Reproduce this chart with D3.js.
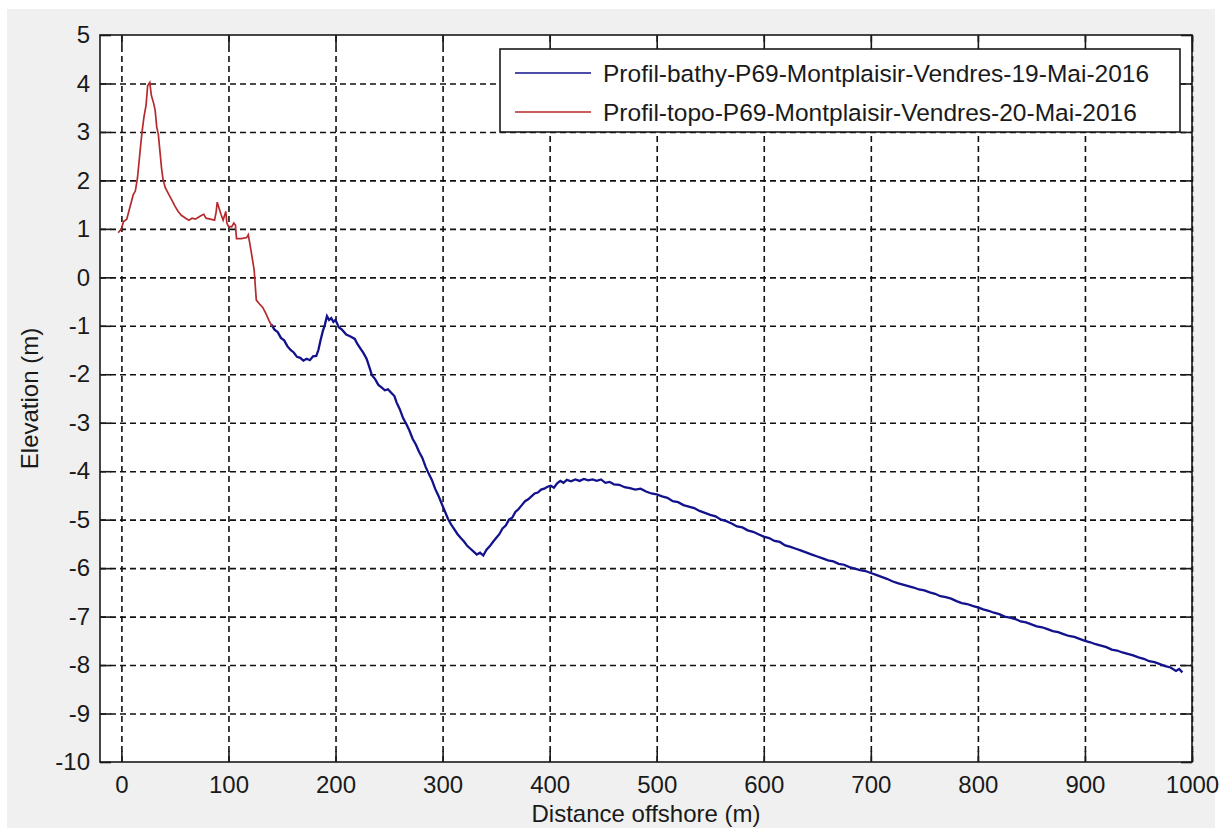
<!DOCTYPE html>
<html lang="en">
<head>
<meta charset="utf-8">
<script src="https://d3js.org/d3.v7.min.js"></script>
<style type="text/css">
body {
	margin: 0;
	background: #ffffff;
	font-family: "Liberation Sans", Arial, sans-serif;
}
.grid line {
	stroke: #111;
	stroke-width: 1.6;
	stroke-dasharray: 6,4;
}
.grid path {
	display: none;
}
.axis path {
	display: none;
}
.axis line {
	stroke: #1a1a1a;
	stroke-width: 1.6;
}
.axis text {
	font-family: "Liberation Sans", Arial, sans-serif;
	font-size: 24px;
	fill: #1a1a1a;
}
</style>
</head>
<body>
<script type="text/javascript">

// tick values
var xTicks = [0, 100, 200, 300, 400, 500, 600, 700, 800, 900, 1000];
var yTicks = [-10, -9, -8, -7, -6, -5, -4, -3, -2, -1, 0, 1, 2, 3, 4, 5];

// series names
var seriesNames = ["Profil-bathy-P69-Montplaisir-Vendres-19-Mai-2016",
                   "Profil-topo-P69-Montplaisir-Vendres-20-Mai-2016"];

// topo profile (red)
var topoDist = [-3, 0, 2, 5, 8, 11, 13, 15, 17, 19, 21, 23, 24.5, 26.5, 28, 30, 31.5, 33, 34.5, 36,
	37.5, 39, 41, 44, 47, 50, 53, 56, 60, 63, 66, 69, 72, 75, 77, 79, 83, 87, 88.5, 89.5,
	91, 93, 95, 97.5, 98.5, 100, 103, 105, 106.5, 107.5, 112, 117, 118.5, 121, 124, 126, 129, 132, 135, 138, 141];
var topoElev = [0.92, 1.0, 1.15, 1.2, 1.45, 1.7, 1.78, 2.05, 2.5, 2.95, 3.3, 3.55, 3.95, 4.02, 3.75, 3.6, 3.45, 3.1, 2.95, 2.6,
	2.25, 2.0, 1.85, 1.72, 1.6, 1.47, 1.36, 1.28, 1.22, 1.18, 1.22, 1.2, 1.24, 1.28, 1.3, 1.22, 1.2, 1.18, 1.35, 1.55,
	1.44, 1.3, 1.18, 1.36, 1.12, 1.05, 1.04, 1.12, 1.08, 0.8, 0.8, 0.82, 0.88, 0.56, 0.15, -0.47, -0.55, -0.62, -0.75, -0.9, -1.02];

// bathy profile (blue)
var bathyDist = [140, 143, 146, 149, 152, 155, 158, 161, 164, 167, 170, 173, 176, 179, 182, 184, 186, 188, 190, 192,
	194, 196, 198, 200, 203, 206, 210, 214, 218, 220, 223, 226, 229, 232, 234, 237, 240, 243, 246, 249,
	252, 255, 257, 260, 263, 266, 269, 272, 275, 278, 281, 284, 287, 290, 293, 296, 299, 302, 305, 308,
	311, 314, 317, 320, 323, 326, 329, 332, 335, 338, 341, 344, 347, 350, 353, 356, 359, 362, 365, 368,
	371, 374, 377, 380, 383, 386, 389, 392, 395, 398, 401, 404, 407, 410, 413, 416, 420, 424, 428, 432,
	436, 440, 444, 448, 452, 456, 460, 465, 470, 475, 480, 485, 490, 495, 500, 505, 510, 515, 520, 525,
	530, 535, 540, 545, 550, 555, 560, 565, 570, 575, 580, 585, 590, 595, 600, 605, 610, 615, 620, 625,
	630, 635, 640, 645, 650, 655, 660, 665, 670, 675, 680, 685, 690, 695, 700, 705, 710, 715, 720, 725,
	730, 735, 740, 745, 750, 755, 760, 765, 770, 775, 780, 785, 790, 795, 800, 805, 810, 815, 820, 825,
	830, 835, 840, 845, 850, 855, 860, 865, 870, 875, 880, 885, 890, 895, 900, 905, 910, 915, 920, 925,
	930, 935, 940, 945, 950, 955, 960, 965, 970, 975, 980, 985, 988, 991];
var bathyElev = [-0.97, -1.08, -1.13, -1.25, -1.3, -1.42, -1.5, -1.55, -1.64, -1.66, -1.72, -1.68, -1.71, -1.63, -1.62, -1.5, -1.3, -1.12, -0.98, -0.8,
	-0.88, -0.84, -0.92, -0.88, -1.03, -1.08, -1.18, -1.22, -1.27, -1.36, -1.46, -1.56, -1.68, -1.88, -2.02, -2.1, -2.22, -2.27, -2.33, -2.31,
	-2.38, -2.45, -2.58, -2.72, -2.9, -3.02, -3.16, -3.33, -3.45, -3.6, -3.72, -3.9, -4.05, -4.18, -4.36, -4.5, -4.66, -4.82, -4.98, -5.1,
	-5.2, -5.3, -5.38, -5.45, -5.54, -5.6, -5.66, -5.72, -5.68, -5.74, -5.62, -5.55, -5.46, -5.38, -5.3, -5.18, -5.12, -5.0, -4.96, -4.84,
	-4.78, -4.7, -4.62, -4.58, -4.52, -4.46, -4.44, -4.38, -4.36, -4.32, -4.3, -4.34, -4.25, -4.2, -4.24, -4.18, -4.21, -4.17, -4.2, -4.16,
	-4.19, -4.17, -4.2, -4.17, -4.24, -4.22, -4.27, -4.28, -4.33, -4.35, -4.38, -4.36, -4.42, -4.46, -4.48, -4.52, -4.55, -4.62, -4.64, -4.7,
	-4.73, -4.76, -4.82, -4.86, -4.9, -4.93, -5.0, -5.03, -5.08, -5.14, -5.16, -5.22, -5.25, -5.3, -5.35, -5.38, -5.44, -5.46, -5.53, -5.56,
	-5.6, -5.64, -5.68, -5.72, -5.76, -5.8, -5.84, -5.86, -5.91, -5.93, -5.98, -6.01, -6.04, -6.06, -6.1, -6.14, -6.18, -6.22, -6.27, -6.31,
	-6.34, -6.37, -6.4, -6.44, -6.46, -6.5, -6.53, -6.58, -6.6, -6.63, -6.68, -6.72, -6.74, -6.78, -6.81, -6.85, -6.88, -6.92, -6.95, -7.0,
	-7.02, -7.05, -7.1, -7.12, -7.16, -7.2, -7.22, -7.26, -7.3, -7.32, -7.36, -7.4, -7.42, -7.46, -7.5, -7.53, -7.57, -7.6, -7.63, -7.68,
	-7.7, -7.74, -7.77, -7.8, -7.84, -7.87, -7.92, -7.94, -7.98, -8.02, -8.05, -8.12, -8.08, -8.15];

var seriesColors = ["#12128c", "#b52a2c"];

var width = 1219;
var height = 829;

var plot = {left: 100, top: 35, right: 1192, bottom: 762};
var tickLen = 11;

var svg = d3.select("body")
	.append("svg")
	.attr("width", width)
	.attr("height", height);

// figure background
svg.append("rect")
	.attr("x", 7)
	.attr("y", 9)
	.attr("width", 1208)
	.attr("height", 819)
	.attr("fill", "#f0f0f0");

var x = d3.scaleLinear()
	.domain([-20, 1000])
	.range([plot.left, plot.right]);

var y = d3.scaleLinear()
	.domain([-10, 5])
	.range([plot.bottom, plot.top]);

// axes area
svg.append("rect")
	.attr("x", plot.left)
	.attr("y", plot.top)
	.attr("width", plot.right - plot.left)
	.attr("height", plot.bottom - plot.top)
	.attr("fill", "#ffffff");

svg.append("clipPath")
	.attr("id", "clip")
	.append("rect")
	.attr("x", plot.left)
	.attr("y", plot.top)
	.attr("width", plot.right - plot.left)
	.attr("height", plot.bottom - plot.top);

// dashed grid
svg.append("g")
	.attr("class", "grid")
	.attr("transform", "translate(0," + plot.bottom + ")")
	.call(d3.axisBottom(x).tickValues(xTicks).tickSize(-(plot.bottom - plot.top)).tickFormat(""));

svg.append("g")
	.attr("class", "grid")
	.attr("transform", "translate(" + plot.left + ",0)")
	.call(d3.axisLeft(y).tickValues(yTicks.slice(1, -1)).tickSize(-(plot.right - plot.left)).tickFormat(""));

// lines
var line = d3.line()
	.x(function(d) { return x(d[0]); })
	.y(function(d) { return y(d[1]); });

var bathy = bathyDist.map(function(d, i) { return [d, bathyElev[i]]; });
var topo = topoDist.map(function(d, i) { return [d, topoElev[i]]; });

var lines = svg.append("g").attr("clip-path", "url(#clip)");

lines.append("path")
	.datum(bathy)
	.attr("d", line)
	.attr("fill", "none")
	.attr("stroke", seriesColors[0])
	.attr("stroke-width", 2.3);

lines.append("path")
	.datum(topo)
	.attr("d", line)
	.attr("fill", "none")
	.attr("stroke", seriesColors[1])
	.attr("stroke-width", 1.7);

// ticks (inward, all four sides)
var fmt = function(d) { return String(d); };

svg.append("g")
	.attr("class", "axis")
	.attr("transform", "translate(0," + plot.bottom + ")")
	.call(d3.axisBottom(x).tickValues(xTicks).tickSizeInner(-tickLen).tickSizeOuter(0).tickPadding(14).tickFormat(fmt));

svg.append("g")
	.attr("class", "axis")
	.attr("transform", "translate(0," + plot.top + ")")
	.call(d3.axisTop(x).tickValues(xTicks).tickSizeInner(-tickLen).tickSizeOuter(0).tickFormat(""));

svg.append("g")
	.attr("class", "axis")
	.attr("transform", "translate(" + plot.left + ",0)")
	.call(d3.axisLeft(y).tickValues(yTicks).tickSizeInner(-tickLen).tickSizeOuter(0).tickPadding(10).tickFormat(fmt));

svg.append("g")
	.attr("class", "axis")
	.attr("transform", "translate(" + plot.right + ",0)")
	.call(d3.axisRight(y).tickValues(yTicks).tickSizeInner(-tickLen).tickSizeOuter(0).tickFormat(""));

// box
svg.append("rect")
	.attr("x", plot.left)
	.attr("y", plot.top)
	.attr("width", plot.right - plot.left)
	.attr("height", plot.bottom - plot.top)
	.attr("fill", "none")
	.attr("stroke", "#1a1a1a")
	.attr("stroke-width", 1.6);

// axis labels
svg.append("text")
	.attr("x", (plot.left + plot.right) / 2)
	.attr("y", 822)
	.attr("text-anchor", "middle")
	.style("font-size", "24px")
	.attr("fill", "#1a1a1a")
	.text("Distance offshore (m)");

svg.append("text")
	.attr("transform", "translate(38," + (plot.top + plot.bottom) / 2 + ") rotate(-90)")
	.attr("text-anchor", "middle")
	.style("font-size", "24px")
	.attr("fill", "#1a1a1a")
	.text("Elevation (m)");

// legend
var legend = svg.append("g").attr("transform", "translate(500,49)");

legend.append("rect")
	.attr("width", 680)
	.attr("height", 83)
	.attr("fill", "#ffffff")
	.attr("stroke", "#1a1a1a")
	.attr("stroke-width", 1.6);

var item = legend.selectAll("g.item")
	.data(seriesNames)
	.enter()
	.append("g")
	.attr("class", "item")
	.attr("transform", function(d, i) { return "translate(0," + (24 + i * 39) + ")"; });

item.append("line")
	.attr("x1", 15)
	.attr("x2", 91)
	.attr("stroke", function(d, i) { return seriesColors[i]; })
	.attr("stroke-width", 1.6);

item.append("text")
	.attr("x", 103)
	.attr("dy", "0.35em")
	.style("font-size", "24.5px")
	.attr("fill", "#1a1a1a")
	.text(function(d) { return d; });

</script>
</body>
</html>
